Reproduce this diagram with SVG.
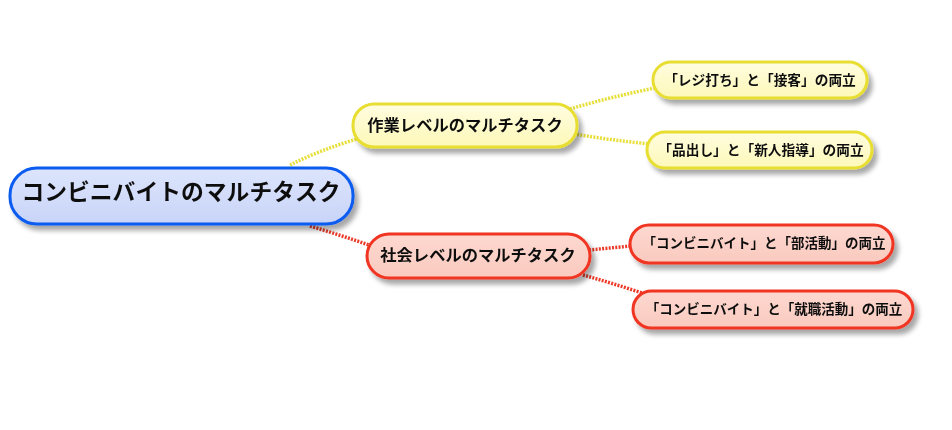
<svg xmlns="http://www.w3.org/2000/svg" width="952" height="430" viewBox="0 0 952 430">
<defs>
<filter id="sh" x="-10%" y="-30%" width="125%" height="170%">
<feGaussianBlur in="SourceAlpha" stdDeviation="2.5"/>
<feOffset dx="4" dy="5" result="b"/>
<feComponentTransfer><feFuncA type="linear" slope="0.35"/></feComponentTransfer>
<feMerge><feMergeNode/><feMergeNode in="SourceGraphic"/></feMerge>
</filter>
<linearGradient id="gb" x1="0" y1="0" x2="0" y2="1"><stop offset="0" stop-color="#dde5fc"/><stop offset="1" stop-color="#c8d4f8"/></linearGradient>
<linearGradient id="gy" x1="0" y1="0" x2="0" y2="1"><stop offset="0" stop-color="#fffde0"/><stop offset="1" stop-color="#fdf8b8"/></linearGradient>
<linearGradient id="gr" x1="0" y1="0" x2="0" y2="1"><stop offset="0" stop-color="#fdd8d0"/><stop offset="1" stop-color="#facabe"/></linearGradient>
</defs>
<style>
text{font-family:"Noto Sans CJK JP","Noto Sans CJK SC",sans-serif;font-weight:bold;fill:#111;text-anchor:middle;dominant-baseline:central}
.root rect{fill:url(#gb);stroke:#0a5cf0;stroke-width:3}
.y rect{fill:url(#gy);stroke:#e8de30;stroke-width:3}
.r rect{fill:url(#gr);stroke:#f03422;stroke-width:3}
.cy{stroke:#e8df3a;stroke-width:3.5;fill:none;stroke-dasharray:2 1.3}
.cr{stroke:#ec3b2a;stroke-width:3.5;fill:none;stroke-dasharray:2 1.3}
</style>
<g id="connectors">
<path class="cy" d="M290,165 Q320,150 357,139"/>
<path class="cr" d="M310,226 Q340,235 369,245"/>
<path class="cy" d="M570,109 Q610,97 655,88"/>
<path class="cy" d="M574,134 Q610,140 650,144"/>
<path class="cr" d="M589,250 Q610,248 631,246"/>
<path class="cr" d="M583,275 Q612,283 642,293"/>
</g>
<g id="root" class="root" filter="url(#sh)">
<rect x="10" y="168" width="343" height="56" rx="27"/>
<text x="181" y="190" font-size="22.8">コンビニバイトのマルチタスク</text>
</g>
<g id="n1" class="y" filter="url(#sh)">
<rect x="353" y="104" width="224" height="43" rx="21"/>
<text x="465" y="124" font-size="16.3">作業レベルのマルチタスク</text>
</g>
<g id="n2" class="r" filter="url(#sh)">
<rect x="367" y="234" width="223" height="44" rx="22"/>
<text x="478" y="254" font-size="16.3">社会レベルのマルチタスク</text>
</g>
<g id="l1" class="y" filter="url(#sh)">
<rect x="653" y="62" width="214" height="36" rx="18"/>
<text x="760" y="79" font-size="13.7">「レジ打ち」と「接客」の両立</text>
</g>
<g id="l2" class="y" filter="url(#sh)">
<rect x="647" y="132" width="225" height="36" rx="18"/>
<text x="761" y="149" font-size="13.7">「品出し」と「新人指導」の両立</text>
</g>
<g id="l3" class="r" filter="url(#sh)">
<rect x="630" y="225" width="263" height="38" rx="19"/>
<text x="764" y="242" font-size="13.5">「コンビニバイト」と「部活動」の両立</text>
</g>
<g id="l4" class="r" filter="url(#sh)">
<rect x="633" y="291" width="280" height="37" rx="18.5"/>
<text x="774" y="308" font-size="13.5">「コンビニバイト」と「就職活動」の両立</text>
</g>
</svg>
